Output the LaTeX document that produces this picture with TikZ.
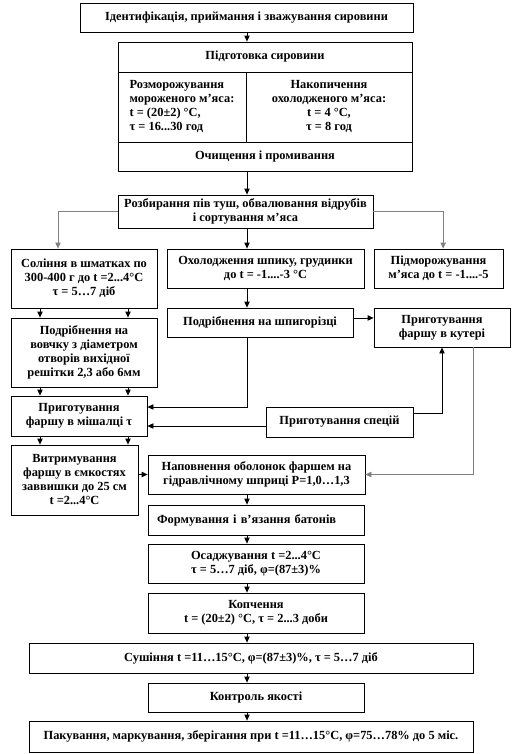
\documentclass[tikz,border=0pt]{standalone}
\usepackage{fontspec}
\setmainfont{Liberation Serif}
\usetikzlibrary{arrows.meta}
\begin{document}
\begin{tikzpicture}[x=0.75pt,y=-0.75pt,>={Triangle[length=4.5pt,width=4pt]},
box/.style={draw,line width=0.6pt,align=center,inner sep=1pt,font=\bfseries\fontsize{9.3}{10.5}\selectfont},
sz/.style 2 args={minimum width=#1*0.75pt,minimum height=#2*0.75pt},
link/.style={->,line width=0.6pt},glink/.style={link,draw=black!50}]
\useasboundingbox (0,0) rectangle (515,754);
\coordinate (spine) at (247,0);
% raw material
\node[box,sz={333}{29}](ident)at(246.5,17.5){Ідентифікація,  приймання і зважування сировини};
\node[box,sz={294}{30}](prep)at(265,57){Підготовка  сировини};
\node[box,sz={128}{70},align=left](thaw)at(182,107){Розморожування\\мороженого м’яса:\\t = (20±2)  °C,\\τ = 16...30  год};
\node[box,sz={166}{70}](accum)at(329,107){Накопичення\\охолодженого  м’яса:\\t = 4 °C,\\τ = 8 год};
\node[box,sz={294}{29}](clean)at(265,156.5){Очищення і промивання};
\node[box,sz={255}{33}](cut)at(245.5,211.5){Розбирання пів туш,  обвалювання відрубів\\і сортування м’яса};
% three branches
\node[box,sz={146}{59}](salt)at(84,278.5){Соління в шматках по\\300-400  г до t =2...4°C\\τ = 5…7 діб};
\node[box,sz={197}{39}](chill)at(265.5,268.5){Охолодження шпику, грудинки\\до t = -1....-3  °C};
\node[box,sz={129}{39}](freeze)at(438.5,268.5){Підморожування\\м’яса до t = -1....-5};
\node[box,sz={146}{69}](mince)at(84,352.5){Подрібнення на\\вовчку з діаметром\\отворів вихідної\\решітки 2,3 або 6мм};
\node[box,sz={186}{29}](shred)at(260,322.5){Подрібнення на шпигорізці};
\node[box,sz={136}{39}](cutter)at(442,327.5){Приготування\\фаршу в кутері};
\node[box,sz={136}{40}](mixer)at(79,416){Приготування\\фаршу в мішалці  τ};
\node[box,sz={147}{30}](spices)at(339.5,422){Приготування спецій};
\node[box,sz={127}{70}](hold)at(74.5,480){Витримування\\фаршу в ємкостях\\заввишки до 25 см\\t =2...4°C};
% sausage line
\node[box,sz={217}{39}](fill)at(256.5,474.5){Наповнення оболонок фаршем на\\гідравлічному шприці P=1,0…1,3};
\node[box,sz={216}{30},text width=198*0.75pt,align=left](form)at(256,520){Формування і в’язання батонів};
\node[box,sz={216}{39}](settle)at(256,563.5){Осаджування t =2...4°C\\τ = 5…7 діб, φ=(87±3)\%};
\node[box,sz={216}{40}](smoke)at(256,613){Копчення\\t = (20±2)  °C, τ = 2...3  доби};
\node[box,sz={444}{30}](dry)at(251,658){Сушіння t =11…15°C,  φ=(87±3)\%,  τ = 5…7 діб};
\node[box,sz={216}{29}](qc)at(256,697.5){Контроль якості};
\node[box,sz={444}{31}](pack)at(251,736.5){Пакування, маркування, зберігання при t =11…15°C,  φ=75…78\%  до 5 міс.};
% connectors
\draw[link](ident.south-|spine)--(prep.north-|spine);
\draw[link](clean.south-|spine)--(cut.north-|spine);
\draw[glink](cut.west)-|([xshift=-19.5pt]salt.north);
\draw[glink](cut.east)-|([xshift=3.5pt]freeze.north);
\draw[link](cut.south-|spine)--(chill.north-|spine);
\foreach \s in {-33pt,33pt}{\draw[link]([xshift=\s]salt.south)--([xshift=\s]mince.north);
\draw[link]([xshift=\s]mince.south)--([xshift=\s]mince.south|-mixer.north);
\draw[link]([xshift=\s]mince.south|-mixer.south)--([xshift=\s]mince.south|-hold.north);}
\draw[link](chill.south-|spine)--(shred.north-|spine);
\draw[link]([yshift=3.4pt]shred.east)--([yshift=3.4pt]shred.east-|cutter.west);
\draw[link](shred.south-|spine)|-([yshift=6.75pt]mixer.east);
\draw[link]([yshift=-3pt]spices.west)--([yshift=-3pt]spices.west-|mixer.east);
\draw[link]([yshift=6.75pt]spices.east)-|(cutter.south);
\draw[glink]([xshift=23.25pt]cutter.south)|-(fill.east);
\draw[link](hold.east|-fill.west)--(fill.west);
\foreach \a/\b in {fill/form,form/settle,settle/smoke,smoke/dry,dry/qc,qc/pack}\draw[link](\a.south-|spine)--(\b.north-|spine);
\end{tikzpicture}
\end{document}
